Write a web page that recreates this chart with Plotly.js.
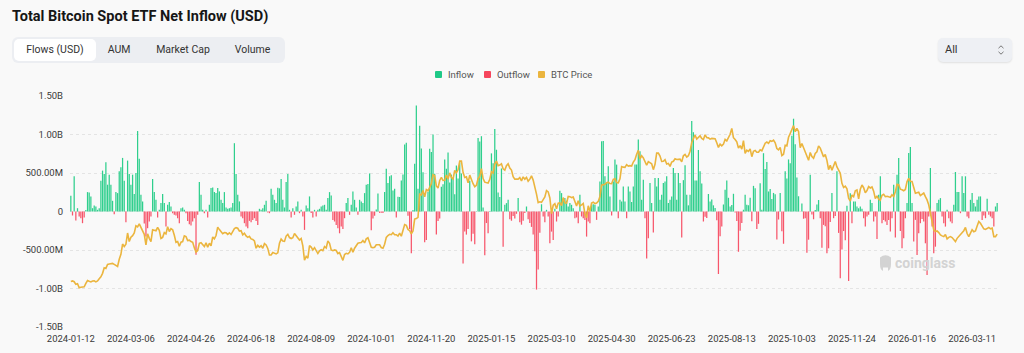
<!DOCTYPE html>
<html>
<head>
<meta charset="utf-8">
<script src="https://cdn.plot.ly/plotly-3.0.1.min.js"></script>
<style>
  html, body { margin:0; padding:0; width:1024px; height:353px; overflow:hidden; background:#f9f9f9; font-family: Roboto, "Noto Sans", Arial, sans-serif; }
  #chart { position:absolute; left:0; top:0; width:1024px; height:353px; }
  .ui { position:absolute; pointer-events:none; z-index:5; }
  .title { left:12px; top:8px; font-size:14.5px; font-weight:700; color:#161616; white-space:nowrap; line-height:18px; }
  .tabs { left:12px; top:37px; width:273px; height:26px; background:#eceef2; border-radius:6px; }
  .tab { position:absolute; top:2px; height:22px; line-height:22px; font-size:10.5px; color:#333; text-align:center; white-space:nowrap; }
  .tab.active { background:#ffffff; border-radius:5px; }
  .sel { left:938px; top:38px; width:74px; height:24px; background:#eef0f4; border-radius:5px; box-shadow:0 1px 2px rgba(0,0,0,0.10); }
  .sel span { position:absolute; left:7px; top:0; line-height:24px; font-size:11px; color:#333; }
  .sel svg { position:absolute; left:59px; top:6px; }
  .lg-sq { width:7px; height:7px; border-radius:1px; top:71px; }
  .lg-tx { top:69px; font-size:9.5px; line-height:12px; color:#555; white-space:nowrap; }
  .wm { left:895px; top:254px; font-size:14px; font-weight:700; color:#d3d3d3; line-height:18px; }
</style>
</head>
<body>
<div id="chart"></div>

<div class="ui title">Total Bitcoin Spot ETF Net Inflow (USD)</div>
<div class="ui tabs">
  <div class="tab active" style="left:2px;width:82px;">Flows (USD)</div>
  <div class="tab" style="left:87px;width:40px;">AUM</div>
  <div class="tab" style="left:136px;width:70px;">Market Cap</div>
  <div class="tab" style="left:213px;width:55px;">Volume</div>
</div>
<div class="ui sel"><span>All</span>
  <svg width="8" height="12" viewBox="0 0 8 12"><path d="M1.5 4.2 L4 1.8 L6.5 4.2" fill="none" stroke="#777" stroke-width="1"/><path d="M1.5 7.8 L4 10.2 L6.5 7.8" fill="none" stroke="#777" stroke-width="1"/></svg>
</div>
<div class="ui lg-sq" style="left:435px;background:#1fc987;"></div>
<div class="ui lg-tx" style="left:448px;">Inflow</div>
<div class="ui lg-sq" style="left:484px;background:#f6465d;"></div>
<div class="ui lg-tx" style="left:497px;">Outflow</div>
<div class="ui lg-sq" style="left:538px;background:#ebb53e;"></div>
<div class="ui lg-tx" style="left:551px;">BTC Price</div>
<div class="ui" style="left:878px;top:254px;width:15px;height:18px;">
  <svg width="15" height="18" viewBox="0 0 15 18"><path d="M2 3.5 Q7.5 -1 13 3.5 L13 10 Q13 15.5 10 17 L10 13.5 L5 13.5 L5 17 Q2 15.5 2 10 Z" fill="#d3d3d3"/></svg>
</div>
<div class="ui wm">coinglass</div>

<script>
// ---------- data ----------
const START_DATE = '2024-01-12';
const MARKET_HOLIDAYS = ['2024-01-15','2024-02-19','2024-03-29','2024-05-27','2024-06-19','2024-07-04','2024-09-02','2024-11-28','2024-12-25',
  '2025-01-01','2025-01-09','2025-01-20','2025-02-17','2025-04-18','2025-05-26','2025-06-19','2025-07-04','2025-09-01','2025-11-27','2025-12-25',
  '2026-01-01','2026-01-19','2026-02-16'];

const TICK_DATES = ['2024-01-12','2024-03-06','2024-04-26','2024-06-18','2024-08-09','2024-10-01','2024-11-20','2025-01-15',
  '2025-03-10','2025-04-30','2025-06-23','2025-08-13','2025-10-03','2025-11-24','2026-01-16','2026-03-11'];

const Y_TICK_VALUES = [-1500, -1000, -500, 0, 500, 1000, 1500];
const Y_TICK_LABELS = ['-1.50B', '-1.00B', '-500.00M', '0', '500.00M', '1.00B', '1.50B'];

// daily net flow, million USD
const NET_FLOW_M = [
  204,-52,457,-117,43,-65,-87,-152,-78,20,252,248,196,43,78,65,22,43,400,531,487,640,348,478,348,139,-35,252,239,522,574,696,400,-139,661,487,
  348,478,226,500,1045,684,217,130,-155,-326,-217,-130,-65,422,252,152,-78,22,109,226,109,-196,87,122,65,-22,-43,-52,-87,-152,43,52,22,-22,-122,-165,
  -183,-130,-87,-563,-43,383,217,22,-22,22,-78,87,304,313,252,239,304,261,152,109,252,52,35,43,52,109,887,488,217,131,-65,-87,-152,-196,-217,-122,
  -139,-109,-87,-122,-174,35,22,43,87,139,-13,-22,295,216,152,109,310,301,422,152,52,383,486,22,-78,43,-43,65,130,-22,22,-65,-239,78,43,196,
  -20,-78,22,-65,22,35,65,78,87,22,174,252,209,-109,-130,-174,-217,-283,-196,-226,-87,109,174,-43,87,261,152,52,-43,152,130,109,239,348,357,494,
  -242,-92,-55,25,235,-18,-17,-20,253,556,371,458,470,273,294,-79,192,188,402,479,870,893,-55,-226,-541,20,621,1376,294,1114,817,510,-400,-370,255,816,
  773,1000,490,-300,-123,-90,320,353,676,556,766,376,479,439,223,597,428,637,493,-674,-260,-300,-226,400,-388,-288,-426,5,953,908,978,52,-568,-150,-284,8,
  755,626,1072,802,248,188,559,-457,87,109,152,-100,-120,-60,-90,-30,174,-140,-171,-120,-20,65,-100,-150,-200,-300,-516,-1014,-754,-276,94,-65,-139,22,-65,-413,
  -261,-370,35,-130,-65,270,239,152,174,139,65,109,87,43,-87,-78,-152,217,-65,-87,-109,-326,-130,-152,87,95,87,-109,65,391,912,917,457,370,587,196,
  -52,391,674,609,-87,152,130,326,130,-87,326,261,122,326,609,609,935,783,152,413,-87,-609,-348,370,109,-274,435,326,435,152,217,370,391,457,109,152,
  196,565,500,152,500,370,-339,407,601,216,80,218,1175,1030,403,404,799,523,364,-130,-68,-86,227,131,157,80,47,-114,-812,-323,-196,91,281,404,178,65,
  86,230,-14,-122,-523,-250,-150,23,219,88,81,179,-127,333,301,-227,-160,368,23,757,553,642,260,293,163,241,223,-363,-104,241,-258,-419,522,430,676,627,
  985,1205,875,441,198,-4,103,-94,-87,-536,-366,477,-40,-101,20,90,149,-87,-470,-174,-191,-543,-478,-137,240,-87,-60,524,-278,-867,-493,-254,-373,75,-903,238,
  -151,129,130,65,43,65,35,-87,-196,-65,-43,152,109,-130,-65,-357,217,457,-152,-109,-130,-174,-109,-261,-87,348,-339,478,696,-252,-478,-348,-87,109,761,838,
  109,-391,-109,-565,-283,-152,-96,-130,-413,-826,-65,565,-196,-543,-457,109,152,174,-65,-152,-196,22,-87,-130,-152,87,513,252,252,-22,457,239,457,-65,-87,152,
  239,109,65,152,196,196,-109,-52,-87,165,-43,-65,-87,-196,65,109
];

// BTC price, thousand USD
const BTC_PRICE_K = [
  42.8,43.1,42.7,41.3,41.6,39.5,39.8,40.1,40.0,41.8,43.3,42.9,42.6,43.1,43.2,42.6,43.1,44.3,45.3,47.1,50.0,49.7,51.8,52.0,52.1,52.3,51.8,51.3,50.7,54.5,57.1,62.5,61.2,62.4,68.3,63.8,
  66.1,66.9,68.3,72.1,71.5,73.1,71.4,69.5,67.6,62.0,67.9,65.5,63.8,70.0,69.9,69.5,71.3,69.7,65.4,66.0,68.5,67.8,71.6,69.1,70.6,70.0,67.1,63.4,63.8,61.3,63.5,63.8,66.8,66.4,64.3,64.5,
  63.8,63.4,60.6,58.3,59.1,62.9,63.2,62.3,61.2,63.1,60.8,62.9,61.6,66.2,65.2,67.0,71.4,70.1,69.1,67.9,68.5,68.4,67.6,68.4,67.5,68.8,70.6,71.1,70.8,69.3,69.5,67.3,68.2,66.8,66.0,66.5,
  65.2,64.9,64.1,60.3,61.8,60.9,61.6,60.3,62.7,62.0,60.2,56.7,56.7,58.0,57.7,57.3,57.9,62.9,65.1,64.1,63.9,66.7,67.6,65.9,65.4,65.8,68.0,66.8,66.2,64.6,65.4,61.5,54.0,56.0,55.1,61.7,
  60.9,59.4,60.6,58.7,57.5,58.9,59.5,59.0,61.2,60.4,64.1,62.9,59.4,59.0,59.4,59.1,57.5,58.0,56.2,53.9,57.0,57.6,57.3,58.1,60.6,58.2,60.3,61.8,62.9,63.2,63.3,64.3,63.1,65.2,65.8,63.3,
  60.8,60.6,60.8,62.1,62.2,62.1,60.6,60.3,62.4,66.0,67.0,67.6,67.4,68.4,67.4,67.4,66.7,68.2,66.6,69.9,72.7,72.3,70.2,69.5,67.8,69.4,75.6,75.9,76.5,88.7,88.3,90.6,87.3,91.1,90.5,92.3,
  94.3,98.9,98.4,93.0,91.9,95.9,97.5,95.9,96.0,98.8,96.6,99.9,97.4,96.7,101.2,100.0,101.5,106.1,106.1,100.2,97.5,97.8,94.7,98.7,95.8,94.2,92.6,93.4,96.9,98.1,102.1,96.9,95.0,94.7,94.5,96.5,
  100.5,99.8,104.5,106.1,103.7,104.0,104.7,102.0,101.3,103.7,104.7,102.4,101.4,97.9,96.6,96.6,96.6,97.4,95.7,97.8,96.6,97.5,95.5,96.6,98.3,96.1,91.4,88.7,84.3,84.7,84.4,86.0,87.2,90.6,89.9,86.7,
  78.5,82.9,83.7,81.1,84.0,84.1,82.7,86.9,84.2,84.0,87.5,87.4,86.9,87.2,84.4,82.5,85.2,82.5,83.1,83.8,78.4,76.3,82.6,79.6,84.0,84.5,83.7,84.0,84.9,87.5,93.4,93.7,93.9,94.7,95.0,94.3,
  94.2,96.5,96.8,94.8,94.7,96.8,103.2,102.9,102.8,104.2,103.5,103.7,103.5,105.6,106.8,109.7,111.7,107.3,108.9,107.8,105.6,103.9,105.8,105.4,104.7,101.6,104.4,110.3,110.3,108.7,105.9,106.0,106.8,104.6,104.9,103.3,
  105.6,106.0,107.3,106.9,107.1,107.1,105.7,108.9,109.6,108.2,108.9,111.3,115.9,117.5,119.8,117.7,118.7,119.4,118.0,117.4,119.9,118.5,118.3,117.6,118.0,117.9,117.8,115.7,113.3,115.0,114.1,115.0,117.5,116.7,118.7,120.2,
  123.3,118.4,117.4,116.2,112.9,114.2,112.4,116.9,110.1,111.8,111.2,112.5,108.4,111.2,111.7,110.7,110.7,112.0,111.5,113.9,115.5,116.1,115.4,116.8,116.5,117.1,115.7,112.7,112.0,113.3,109.0,109.7,114.4,114.1,118.6,120.6,
  122.3,124.7,121.5,123.3,121.7,113.2,115.3,113.0,110.8,108.2,106.5,110.6,108.5,107.6,110.1,111.0,114.1,112.9,110.0,108.3,109.6,106.5,101.6,103.9,101.3,103.4,105.9,103.0,101.6,99.7,94.4,92.2,92.9,91.5,86.6,85.1,
  88.3,87.4,90.5,90.9,86.3,91.3,93.5,92.1,89.4,90.6,92.7,92.0,92.5,90.3,86.4,87.8,86.1,85.5,88.1,88.6,87.4,87.6,87.3,87.1,88.4,87.5,90.0,93.8,93.7,91.3,91.0,90.5,91.2,95.3,97.0,95.5,
  95.4,92.5,89.2,89.5,89.7,88.0,88.8,89.3,87.4,85.7,83.1,78.7,76.0,70.0,69.1,69.4,68.5,67.3,66.8,66.4,67.5,65.2,66.0,66.4,65.9,64.5,63.8,65.5,66.4,67.5,68.2,69.5,71.2,68.0,66.4,68.5,
  70.0,69.0,69.4,72.0,74.3,73.4,71.5,70.5,70.2,70.9,71.2,70.5,70.9,66.4,66.4,67.7
];

// ---------- categories: US trading days ----------
function tradingDays(start, count, holidays) {
  const out = [];
  const d = new Date(start + 'T00:00:00Z');
  while (out.length < count) {
    const s = d.toISOString().slice(0, 10);
    const dow = d.getUTCDay();
    if (dow !== 0 && dow !== 6 && holidays.indexOf(s) < 0) out.push(s);
    d.setUTCDate(d.getUTCDate() + 1);
  }
  return out;
}
const DATES = tradingDays(START_DATE, NET_FLOW_M.length, MARKET_HOLIDAYS);

const inflow = NET_FLOW_M.map(v => (v >= 0 ? v : null));
const outflow = NET_FLOW_M.map(v => (v < 0 ? v : null));

const TICK_FONT = { family: 'Roboto, "Noto Sans", sans-serif', size: 9.5, color: '#3a3a3a' };

const traces = [
  { type: 'bar', name: 'Inflow', x: DATES, y: inflow, marker: { color: '#2fcf8d', line: { width: 0 } }, showlegend: false, hoverinfo: 'skip' },
  { type: 'bar', name: 'Outflow', x: DATES, y: outflow, marker: { color: '#f7566b', line: { width: 0 } }, showlegend: false, hoverinfo: 'skip' },
  { type: 'scatter', mode: 'lines', name: 'BTC Price', x: DATES, y: BTC_PRICE_K, yaxis: 'y2',
    line: { color: '#ebb53e', width: 1.6 }, showlegend: false, hoverinfo: 'skip' }
];

const layout = {
  width: 1024, height: 353,
  paper_bgcolor: '#f9f9f9', plot_bgcolor: '#f9f9f9',
  margin: { l: 70, r: 26, t: 96, b: 26, pad: 0 },
  barmode: 'overlay', bargap: 0.25,
  showlegend: false,
  xaxis: {
    type: 'category', range: [-0.5, DATES.length - 0.5],
    tickmode: 'array', tickvals: TICK_DATES, ticktext: TICK_DATES,
    showgrid: false, zeroline: false, showline: false, ticks: '',
    tickfont: TICK_FONT, ticklabelstandoff: 4, fixedrange: true
  },
  yaxis: {
    range: [-1500, 1500], tickmode: 'array', tickvals: Y_TICK_VALUES, ticktext: Y_TICK_LABELS,
    showgrid: true, gridcolor: '#e4e4e4', griddash: '3px,3px', gridwidth: 1,
    zeroline: false, showline: false, ticks: '', tickfont: TICK_FONT, ticklabelstandoff: 6, fixedrange: true
  },
  yaxis2: { overlaying: 'y', range: [18.9, 140.3], visible: false, fixedrange: true }
};

Plotly.newPlot('chart', traces, layout, { displayModeBar: false, staticPlot: true });
</script>
</body>
</html>
